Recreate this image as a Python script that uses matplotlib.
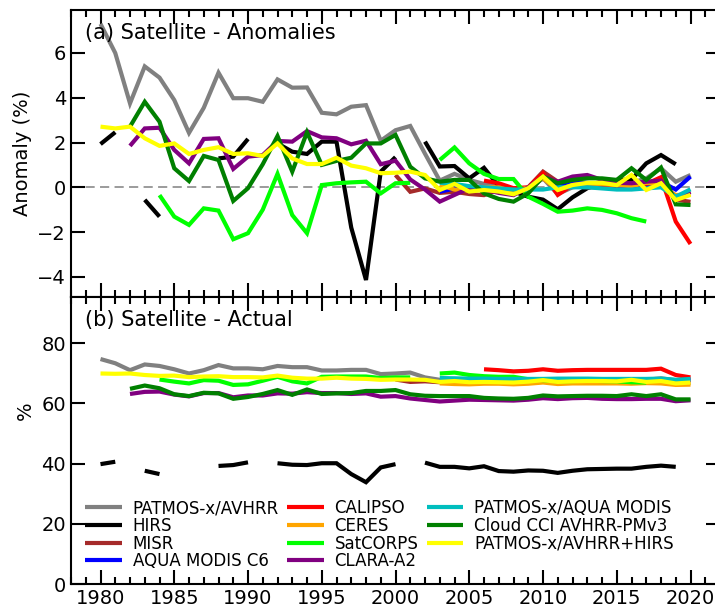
import numpy as np
import matplotlib
matplotlib.use("Agg")
import matplotlib.pyplot as plt
from matplotlib.ticker import MultipleLocator

nan = np.nan
years = np.arange(1980, 2021)

# ---------------- (a) anomalies ----------------
patmos_avhrr_anom = [7.3, 6.0, 3.75, 5.4, 4.9, 3.9, 2.43, 3.55, 5.12, 3.98,
                     3.98, 3.82, 4.82, 4.45, 4.46, 3.33, 3.26, 3.6, 3.67, 2.08,
                     2.55, 2.74, 1.5, 0.3, 0.6, 0.33, 0.15, 0.0, -0.2, -0.1,
                     0.4, -0.3, 0.0, 0.1, 0.1, 0.1, 0.2, 0.4, 0.85, 0.25, 0.55]
hirs_anom = [1.93, 2.46, nan, -0.56, -1.31, nan, nan, nan, 1.29, 1.37,
             2.16, nan, 1.96, 1.59, 1.49, 2.04, 2.04, -1.8, -4.14, 0.7,
             1.35, nan, 2.04, 0.93, 0.95, 0.4, 0.87, 0.05, -0.19, -0.42,
             -0.55, -0.98, -0.45, -0.04, 0.18, 0.33, 0.35, 1.07, 1.44, 1.03, nan]
misr_years = np.arange(2000, 2021)
misr_anom = [0.55, -0.2, -0.05, -0.25, -0.2, -0.3, -0.35, -0.1, -0.25, 0.0,
             0.7, 0.25, 0.05, 0.0, 0.0, -0.05, 0.0, 0.1, 0.25, -0.55, -0.65]
modis_years = np.arange(2003, 2021)
modis_anom = [-0.2, -0.05, 0.0, -0.15, -0.1, -0.25, 0.0, 0.4, 0.1, 0.2,
              0.2, 0.1, 0.1, 0.0, 0.1, 0.25, -0.1, 0.48]
calipso_years = np.arange(2006, 2021)
calipso_anom = [0.3, 0.18, -0.04, 0.0, 0.63, -0.34, 0.1, 0.15, 0.1, 0.1,
                0.15, 0.15, 0.45, -1.53, -2.53]
ceres_years = np.arange(2003, 2021)
ceres_anom = [0.1, -0.1, -0.15, 0.0, 0.0, -0.2, 0.0, 0.4, -0.1, 0.1,
              0.15, 0.15, 0.1, 0.05, 0.2, 0.1, -0.35, -0.3]
satcorps_years = np.arange(1984, 2018)
satcorps_anom = [-0.35, -1.31, -1.68, -0.94, -1.04, -2.32, -2.05, -1.0, 0.6, -1.24,
                 -2.05, 0.1, 0.18, 0.22, 0.25, -0.27, 0.18, 0.2, nan, 1.22,
                 1.78, 1.07, 0.6, 0.37, 0.37, -0.42, -0.74, -1.09, -1.04, -0.94,
                 -1.01, -1.16, -1.38, -1.53]
clara_years = np.arange(1982, 2021)
clara_anom = [1.85, 2.63, 2.66, 1.67, 1.07, 2.16, 2.19, 0.82, 1.37, 1.44,
              2.07, 2.04, 2.51, 2.23, 2.19, 1.92, 2.08, 1.03, 1.19, 0.35,
              -0.1, -0.64, -0.34, -0.04, -0.1, -0.25, -0.35, 0.0, 0.48, 0.25,
              0.48, 0.55, 0.33, 0.2, 0.18, 0.25, 0.3, -0.49, -0.2]
pmodis_years = np.arange(2003, 2021)
pmodis_anom = [0.2, 0.15, 0.05, 0.0, -0.05, -0.1, -0.1, -0.1, 0.0, 0.0,
               0.0, -0.05, -0.1, -0.1, -0.05, 0.0, -0.42, -0.09]
cci_years = np.arange(1982, 2021)
cci_anom = [2.71, 3.82, 2.93, 0.85, 0.28, 1.4, 1.22, -0.61, -0.04, 1.03,
            2.29, 0.7, 2.46, 1.0, 1.18, 1.32, 1.96, 1.96, 2.34, 0.92,
            0.4, 0.25, 0.33, 0.33, -0.27, -0.52, -0.64, -0.27, 0.48, 0.18,
            0.33, 0.4, 0.4, 0.33, 0.85, 0.33, 0.88, -0.76, -0.79]
phirs_anom = [2.71, 2.63, 2.71, 2.19, 1.85, 1.96, 1.49, 1.67, 1.79, 1.49,
              1.52, 1.4, 1.96, 1.29, 1.04, 1.04, 1.32, 0.97, 0.85, 0.63,
              0.65, 0.7, 0.55, -0.12, 0.15, -0.19, -0.12, -0.19, -0.31, -0.04,
              0.48, -0.12, 0.1, 0.2, 0.2, 0.1, 0.55, -0.12, 0.18, -0.57, -0.34]

# ---------------- (b) actual values (%) ----------------
patmos_avhrr_act = [74.7, 73.3, 71.0, 72.9, 72.4, 71.3, 69.9, 71.0, 72.7, 71.6,
                    71.6, 71.3, 72.4, 72.0, 72.0, 70.9, 70.9, 71.1, 71.1, 69.7,
                    69.9, 70.2, 68.6, 67.8, 68.1, 67.8, 67.6, 67.4, 67.2, 67.3,
                    67.8, 67.1, 67.4, 67.5, 67.5, 67.5, 67.6, 67.8, 68.3, 67.7, 68.0]
hirs_act = [39.8, 40.6, nan, 37.6, 36.5, nan, nan, nan, 39.2, 39.5,
            40.4, nan, 40.1, 39.6, 39.5, 40.1, 40.1, 36.5, 33.8, 38.7,
            39.8, nan, 40.3, 38.9, 38.9, 38.4, 39.1, 37.5, 37.3, 37.7,
            37.6, 36.9, 37.6, 38.1, 38.2, 38.3, 38.3, 38.9, 39.3, 38.9, nan]
misr_act = [67.9, 67.1, 67.3, 67.0, 67.1, 67.0, 66.9, 67.2, 67.1, 67.3,
            68.0, 67.6, 67.4, 67.3, 67.3, 67.3, 67.3, 67.4, 67.6, 66.8, 66.7]
modis_act = [67.1, 67.3, 67.3, 67.2, 67.2, 67.1, 67.3, 67.7, 67.4, 67.5,
             67.5, 67.4, 67.4, 67.3, 67.4, 67.6, 67.2, 67.8]
calipso_act = [71.3, 71.0, 70.6, 70.8, 71.3, 70.8, 71.0, 71.1, 71.1, 71.1,
               71.1, 71.1, 71.5, 69.4, 68.6]
ceres_act = [66.6, 66.4, 66.3, 66.5, 66.5, 66.3, 66.5, 66.9, 66.4, 66.6,
             66.6, 66.6, 66.6, 66.5, 66.7, 66.6, 66.1, 66.2]
satcorps_act = [67.9, 67.2, 66.6, 67.7, 67.5, 66.1, 66.3, 67.5, 68.8, 67.3,
                66.6, 68.8, 68.9, 68.9, 68.9, 68.4, 68.6, 68.6, nan, 69.9,
                70.2, 69.4, 69.0, 68.8, 68.8, 68.0, 67.7, 67.3, 67.4, 67.5,
                67.4, 67.3, 67.0, 66.9]
clara_act = [63.1, 63.8, 63.9, 62.9, 62.3, 63.4, 63.4, 62.0, 62.6, 62.6,
             63.3, 63.2, 63.7, 63.4, 63.4, 63.1, 63.3, 62.2, 62.4, 61.6,
             61.1, 60.6, 60.9, 61.2, 61.1, 61.0, 60.9, 61.2, 61.7, 61.4,
             61.7, 61.8, 61.5, 61.4, 61.4, 61.5, 61.5, 60.7, 61.0]
pmodis_act = [68.4, 68.3, 68.2, 68.2, 68.1, 68.1, 68.1, 68.1, 68.2, 68.2,
              68.2, 68.1, 68.1, 68.1, 68.1, 68.2, 67.8, 68.1]
cci_act = [64.8, 65.9, 65.0, 63.0, 62.4, 63.5, 63.3, 61.5, 62.1, 63.1,
           64.4, 62.8, 64.6, 63.1, 63.3, 63.4, 64.1, 64.1, 64.4, 63.0,
           62.5, 62.4, 62.4, 62.4, 61.8, 61.6, 61.5, 61.8, 62.6, 62.3,
           62.4, 62.5, 62.5, 62.4, 63.0, 62.4, 63.0, 61.3, 61.3]
phirs_act = [69.9, 69.8, 69.9, 69.4, 69.1, 69.2, 68.7, 68.9, 69.0, 68.7,
             68.7, 68.6, 69.2, 68.5, 68.2, 68.2, 68.5, 68.2, 68.1, 67.8,
             67.9, 67.9, 67.8, 67.1, 67.4, 67.0, 67.1, 67.0, 66.9, 67.2,
             67.7, 67.1, 67.3, 67.4, 67.4, 67.3, 67.8, 67.1, 67.4, 66.6, 66.9]

labels = ["PATMOS-x/AVHRR", "HIRS", "MISR", "AQUA MODIS C6", "CALIPSO", "CERES",
          "SatCORPS", "CLARA-A2", "PATMOS-x/AQUA MODIS", "Cloud CCI AVHRR-PMv3",
          "PATMOS-x/AVHRR+HIRS"]
colors = ["#808080", "#000000", "#A52A2A", "#0000FF", "#FF0000", "#FFA500",
          "#00FF00", "#800080", "#00BEBE", "#008000", "#FFFF00"]

series_a = [(years, patmos_avhrr_anom), (years, hirs_anom), (misr_years, misr_anom),
            (modis_years, modis_anom), (calipso_years, calipso_anom),
            (ceres_years, ceres_anom), (satcorps_years, satcorps_anom),
            (clara_years, clara_anom), (pmodis_years, pmodis_anom),
            (cci_years, cci_anom), (years, phirs_anom)]
series_b = [(years, patmos_avhrr_act), (years, hirs_act), (misr_years, misr_act),
            (modis_years, modis_act), (calipso_years, calipso_act),
            (ceres_years, ceres_act), (satcorps_years, satcorps_act),
            (clara_years, clara_act), (pmodis_years, pmodis_act),
            (cci_years, cci_act), (years, phirs_act)]

plt.rcParams['font.family'] = ['DejaVu Sans']
fig = plt.figure(figsize=(7.15, 6.08), dpi=100)
L, W = 71 / 715, (720 - 71) / 715
ax1 = fig.add_axes([L, 1 - 297 / 608, W, 287 / 608])
ax2 = fig.add_axes([L, 1 - 584 / 608, W, 287 / 608])

lw = 3.0
for ax, ser in ((ax1, series_a), (ax2, series_b)):
    for (x, y), c, lab in zip(ser, colors, labels):
        ax.plot(x, np.array(y, dtype=float), color=c, lw=lw, label=lab,
                solid_capstyle='butt', solid_joinstyle='miter')

ax1.axhline(0, color='#808080', lw=1.1, ls=(0, (6, 3.5)), zorder=0.5)

for ax in (ax1, ax2):
    ax.set_xlim(1978, 2022)
    ax.xaxis.set_major_locator(MultipleLocator(5))
    ax.xaxis.set_minor_locator(MultipleLocator(1))
    ax.tick_params(which='both', direction='in', top=True, right=True,
                   width=1.5, labelsize=14)
    ax.tick_params(which='major', length=10)
    ax.tick_params(which='minor', length=5)
    for s in ax.spines.values():
        s.set_linewidth(1.5)

ax1.set_ylim(-4.9, 7.92)
ax1.yaxis.set_major_locator(MultipleLocator(2))
ax1.tick_params(axis='x', labelbottom=False)
ax2.set_ylim(0, 95.3)
ax2.yaxis.set_major_locator(MultipleLocator(20))

ax1.set_ylabel("Anomaly (%)", fontsize=14)
ax2.set_ylabel("%", fontsize=14)
ax1.yaxis.set_label_coords(-0.060, 0.5)
ax2.yaxis.set_label_coords(-0.056, 0.603)

ax1.text(0.0216, 0.92, "(a) Satellite - Anomalies", transform=ax1.transAxes,
         fontsize=15, va='center', ha='left')
ax2.text(0.0216, 0.92, "(b) Satellite - Actual", transform=ax2.transAxes,
         fontsize=15, va='center', ha='left')

ax2.legend(loc='lower left', bbox_to_anchor=(0.0216, 0.048), ncol=3,
           frameon=False, fontsize=12, borderpad=0, borderaxespad=0,
           handlelength=2.2, handletextpad=0.65, columnspacing=0.5,
           labelspacing=-0.02)

fig.savefig("out.png", dpi=100)
